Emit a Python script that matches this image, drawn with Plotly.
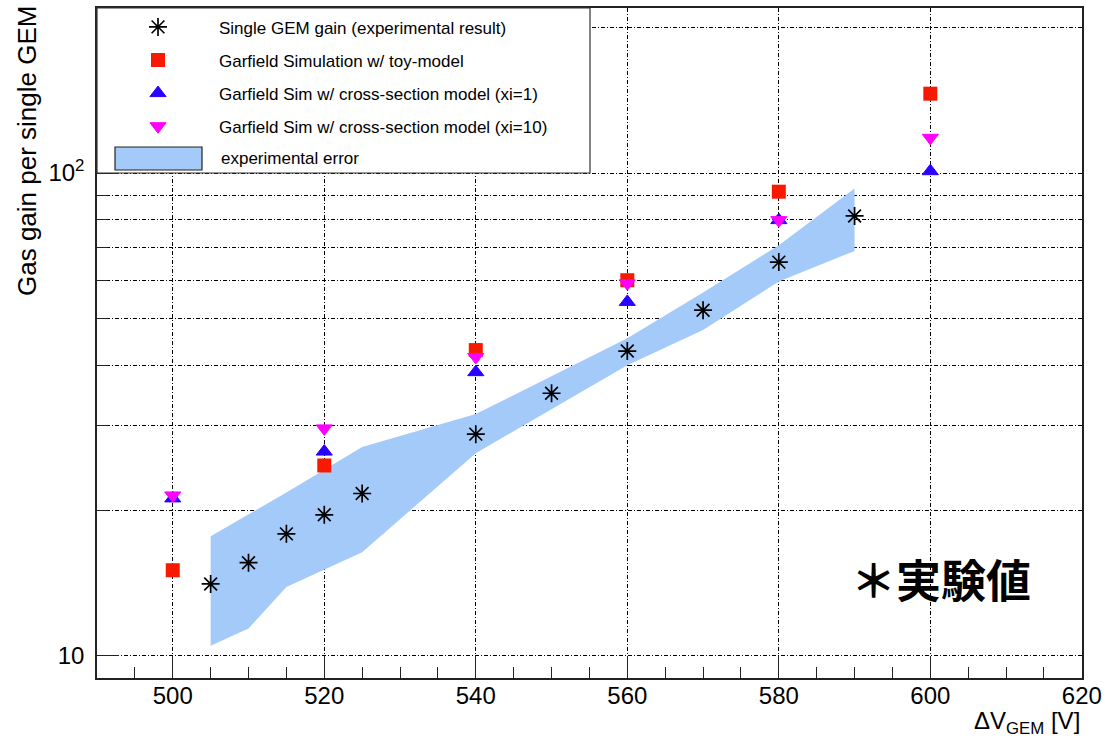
import plotly.graph_objects as go

# ---------------- data ----------------
exp_v = [505, 510, 515, 520, 525, 540, 550, 560, 570, 580, 590]
exp_gain = [14.1, 15.6, 17.9, 19.6, 21.7, 28.8, 35.0, 42.8, 52.0, 65.4, 81.5]

toy_v = [500, 520, 540, 560, 580, 600]
toy_gain = [15.05, 24.8, 43.0, 60.0, 91.5, 146.0]

xs1_v = [500, 520, 540, 560, 580, 600]
xs1_gain = [21.2, 26.5, 38.7, 54.1, 79.9, 100.9]

xs10_v = [500, 520, 540, 560, 580, 600]
xs10_gain = [21.5, 29.6, 41.6, 59.1, 79.9, 118.3]

err_v = [505, 515, 525, 540, 560, 570, 580, 590]
err_upper = [17.7, 21.8, 27.1, 31.7, 45.5, 56.6, 70.9, 92.9]
err_v_low = [505, 510, 515, 525, 540, 560, 570, 580, 590]
err_lower = [10.5, 11.4, 13.9, 16.4, 26.3, 40.0, 47.3, 59.6, 69.0]

x_ticks = [500, 520, 540, 560, 580, 600, 620]
y_ticks = [10, 100]
y_ticktext = ["10", "10<sup>2</sup>"]

FONT = "Liberation Sans, Arial, sans-serif"
GRID_DASH = "4px,2px,1px,2px"
BAND_COLOR = "#a4cafa"

fig = go.Figure()

# experimental error band (polygon)
band_x = err_v + err_v_low[::-1]
band_y = err_upper + err_lower[::-1]
fig.add_trace(go.Scatter(
    x=band_x, y=band_y, fill="toself", mode="lines",
    line=dict(width=0, color=BAND_COLOR), fillcolor=BAND_COLOR,
    name="experimental error", showlegend=False, hoverinfo="skip",
))

fig.add_trace(go.Scatter(
    x=exp_v, y=exp_gain, mode="markers", name="Single GEM gain (experimental result)",
    marker=dict(symbol="asterisk-open", size=15, line=dict(width=1.7, color="black"), color="black"),
    legendgroup="a",
))
fig.add_trace(go.Scatter(
    x=toy_v, y=toy_gain, mode="markers", name="Garfield Simulation w/ toy-model",
    marker=dict(symbol="square", size=14, color="#f81a00"),
    legendgroup="b",
))
fig.add_trace(go.Scatter(
    x=xs1_v, y=xs1_gain, mode="markers", name="Garfield Sim w/ cross-section model (xi=1)",
    marker=dict(symbol="triangle-up", size=14, color="#2a00ff", line=dict(width=1, color="#2a00ff")),
    legendgroup="c",
))
fig.add_trace(go.Scatter(
    x=xs10_v, y=xs10_gain, mode="markers", name="Garfield Sim w/ cross-section model (xi=10)",
    marker=dict(symbol="triangle-down", size=14, color="#ff00ff", line=dict(width=1, color="#ff00ff")),
    legendgroup="d",
))

W, H = 1105, 739
ml, mr, mt, mb = 97, 23, 8, 61
pw = W - ml - mr
ph = H - mt - mb


def px_x(p):
    return (p - ml) / pw


def px_y(p):
    return (H - mb - p) / ph


fig.update_layout(
    width=W, height=H,
    margin=dict(l=ml, r=mr, t=mt, b=mb, autoexpand=False),
    paper_bgcolor="white", plot_bgcolor="white",
    font=dict(family=FONT, color="black"),
    showlegend=True,
    legend=dict(
        x=0.0, y=0.998, xanchor="left", yanchor="top",
        bgcolor="rgba(0,0,0,0)", borderwidth=0,
        font=dict(size=17, family=FONT, color="black"),
        itemwidth=112, tracegroupgap=8, traceorder="grouped",
        itemclick=False,
    ),
    shapes=[
        # legend frame
        dict(type="rect", xref="paper", yref="paper", x0=0, x1=px_x(590), y0=px_y(173), y1=1,
             line=dict(color="#333", width=1.2), fillcolor="white", layer="above"),
        # legend key for the error band
        dict(type="rect", xref="paper", yref="paper", x0=px_x(115), x1=px_x(202),
             y0=px_y(170), y1=px_y(147),
             line=dict(color="#222", width=1.2), fillcolor=BAND_COLOR, layer="above"),
    ],
    annotations=[
        dict(text="experimental error", xref="paper", yref="paper",
             x=px_x(219), y=px_y(158), xanchor="left", yanchor="middle",
             showarrow=False, font=dict(size=17, family=FONT, color="black")),
        dict(text="Gas gain per single GEM", xref="paper", yref="paper",
             x=px_x(27), y=px_y(4), xanchor="center", yanchor="top", textangle=-90,
             showarrow=False, font=dict(size=26, family=FONT, color="black")),
        dict(text="ΔV<sub>GEM</sub> [V]", xref="paper", yref="paper",
             x=px_x(1082), y=px_y(722), xanchor="right", yanchor="middle",
             showarrow=False, font=dict(size=24, family=FONT, color="black")),
        dict(text="<b>＊実験値</b>", xref="paper", yref="paper",
             x=px_x(941), y=px_y(578), xanchor="center", yanchor="middle",
             showarrow=False, font=dict(size=45, family="Noto Sans CJK JP", color="black")),
    ],
)

fig.update_xaxes(
    range=[490, 620.02], tickvals=x_ticks, automargin=False,
    ticks="inside", ticklen=22, tickwidth=1.2, tickcolor="#222",
    showline=True, linecolor="#222", linewidth=1.5, mirror=True,
    showgrid=True, gridcolor="black", gridwidth=1.1, griddash=GRID_DASH,
    tickfont=dict(size=24, family=FONT, color="black"),
    minor=dict(dtick=5, ticks="inside", ticklen=11, tickwidth=1.2, tickcolor="#222", showgrid=False),
    zeroline=False, ticklabelstandoff=-5, ticklabeloverflow="allow",
)
fig.update_yaxes(
    type="log", range=[0.9544, 2.3418], automargin=False,
    tickvals=y_ticks, ticktext=y_ticktext,
    ticks="inside", ticklen=22, tickwidth=1.2, tickcolor="#222",
    showline=True, linecolor="#222", linewidth=1.5, mirror=True,
    showgrid=True, gridcolor="black", gridwidth=1.1, griddash=GRID_DASH,
    tickfont=dict(size=24, family=FONT, color="black"),
    minor=dict(dtick="D1", ticks="inside", ticklen=11, tickwidth=1.2, tickcolor="#222",
               showgrid=True, gridcolor="black", gridwidth=1.1, griddash=GRID_DASH),
    zeroline=False, ticklabelstandoff=6,
)

fig.write_html(
    "out.html",
    config={"displayModeBar": False},
    post_script="document.body.style.margin='0';document.body.style.overflow='hidden';",
)
